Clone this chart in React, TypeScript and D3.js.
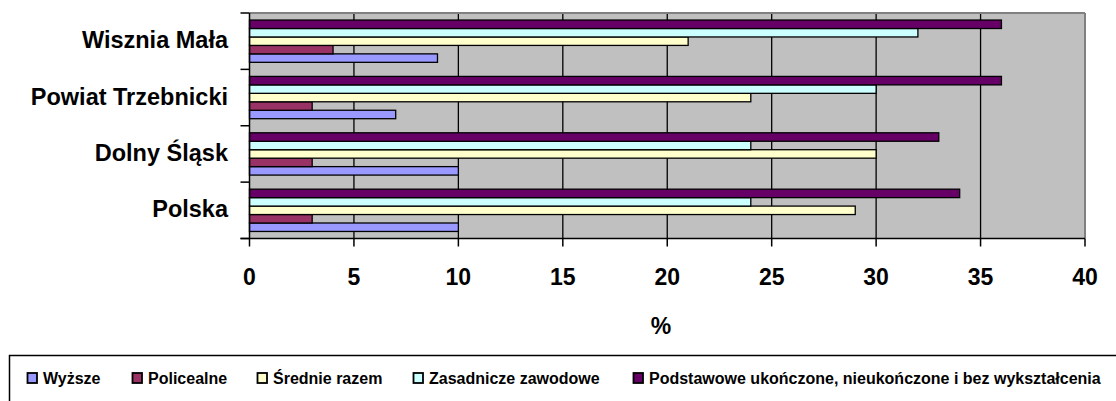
import React from "react";
import * as d3 from "d3";

const categories = ["Wisznia Mała", "Powiat Trzebnicki", "Dolny Śląsk", "Polska"];
const seriesNames = [
  "Wyższe",
  "Policealne",
  "Średnie razem",
  "Zasadnicze zawodowe",
  "Podstawowe ukończone, nieukończone i bez wykształcenia",
];
const seriesColors = ["#9999FF", "#993366", "#FFFFCC", "#CCFFFF", "#660066"];
const wyzsze = [9, 7, 10, 10];
const policealne = [4, 3, 3, 3];
const srednie = [21, 24, 30, 29];
const zasadnicze = [32, 30, 24, 24];
const podstawowe = [36, 36, 33, 34];
const xTicks = [0, 5, 10, 15, 20, 25, 30, 35, 40];

const seriesValues = [wyzsze, policealne, srednie, zasadnicze, podstawowe];

const W = 1116;
const H = 401;
const plot = { left: 249.5, right: 1085, top: 13, bottom: 238.5 };
const FONT = "'Liberation Sans', Arial, sans-serif";

export default function App() {
  const x = d3.scaleLinear().domain([0, 40]).range([plot.left, plot.right]);
  const y = d3
    .scaleBand<string>()
    .domain(categories)
    .range([plot.top, plot.bottom])
    .paddingInner(0.25)
    .paddingOuter(0.125);
  const inner = d3
    .scaleBand<number>()
    .domain([4, 3, 2, 1, 0])
    .range([0, y.bandwidth()]);

  const step = (plot.bottom - plot.top) / categories.length;
  const catBoundaries = d3.range(categories.length + 1).map((i) => plot.top + i * step);

  const legendX = [27, 132, 257, 413, 633];

  return (
    <svg
      width={W}
      height={H}
      style={{ position: "absolute", left: 0, top: 0, background: "#fff" }}
    >
      <rect
        x={plot.left}
        y={plot.top}
        width={plot.right - plot.left}
        height={plot.bottom - plot.top}
        fill="#C0C0C0"
      />
      {xTicks.slice(1, -1).map((t) => (
        <line
          key={"g" + t}
          x1={x(t)}
          x2={x(t)}
          y1={plot.top}
          y2={plot.bottom}
          stroke="#000"
          strokeWidth={1.3}
        />
      ))}
      <line x1={plot.left} x2={plot.right} y1={plot.top} y2={plot.top} stroke="#808080" strokeWidth={2} />
      <line x1={plot.right} x2={plot.right} y1={plot.top} y2={plot.bottom} stroke="#808080" strokeWidth={2} />
      {categories.map((c, ci) => (
        <g key={c}>
          {seriesValues.map((vals, si) => (
            <rect
              key={si}
              x={x(0)}
              y={(y(c) as number) + (inner(si) as number)}
              width={x(vals[ci]) - x(0)}
              height={inner.bandwidth()}
              fill={seriesColors[si]}
              stroke="#000"
              strokeWidth={1.3}
            />
          ))}
        </g>
      ))}
      <line x1={plot.left} x2={plot.left} y1={plot.top} y2={plot.bottom} stroke="#000" strokeWidth={1.5} />
      <line x1={plot.left - 9} x2={plot.right} y1={plot.bottom} y2={plot.bottom} stroke="#000" strokeWidth={1.5} />
      {catBoundaries.map((b, i) => (
        <line key={"yt" + i} x1={plot.left - 9} x2={plot.left} y1={b} y2={b} stroke="#000" strokeWidth={1.5} />
      ))}
      {xTicks.map((t) => (
        <g key={"xt" + t}>
          <line x1={x(t)} x2={x(t)} y1={plot.bottom} y2={plot.bottom + 8} stroke="#000" strokeWidth={1.5} />
          <text
            x={x(t)}
            y={277}
            textAnchor="middle"
            dominantBaseline="central"
            fontFamily={FONT}
            fontWeight="bold"
            fontSize={23}
            fill="#000"
          >
            {t}
          </text>
        </g>
      ))}
      {categories.map((c) => (
        <text
          key={"yl" + c}
          x={228}
          y={(y(c) as number) + y.bandwidth() / 2 - 1}
          textAnchor="end"
          dominantBaseline="central"
          fontFamily={FONT}
          fontWeight="bold"
          fontSize={23.5}
          fill="#000"
        >
          {c}
        </text>
      ))}
      <text
        x={661}
        y={326}
        textAnchor="middle"
        dominantBaseline="central"
        fontFamily={FONT}
        fontWeight="bold"
        fontSize={23}
        fill="#000"
      >
        %
      </text>
      <rect x={9.5} y={355.5} width={1115} height={60} fill="#fff" stroke="#000" strokeWidth={1.5} />
      {seriesNames.map((n, i) => (
        <g key={"lg" + i}>
          <rect
            x={legendX[i] + 0.5}
            y={373}
            width={9.5}
            height={10}
            fill={seriesColors[i]}
            stroke="#000"
            strokeWidth={1.8}
          />
          <text
            x={legendX[i] + 16}
            y={378.5}
            dominantBaseline="central"
            fontFamily={FONT}
            fontWeight="bold"
            fontSize={16}
            fill="#000"
          >
            {n}
          </text>
        </g>
      ))}
    </svg>
  );
}
